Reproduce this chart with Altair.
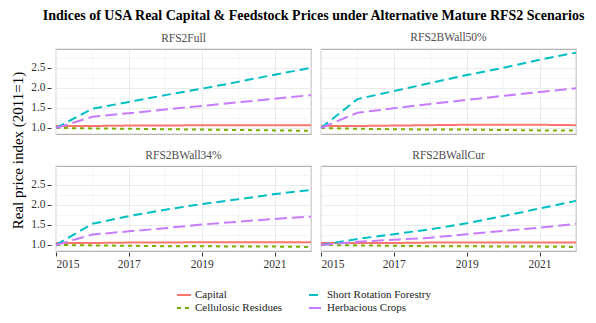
import altair as alt
import pandas as pd

years = [2015, 2016, 2017, 2018, 2019, 2020, 2021, 2022]
scenarios = ["RFS2Full", "RFS2BWall50%", "RFS2BWall34%", "RFS2BWallCur"]
series = ["Capital", "Cellulosic Residues", "Short Rotation Forestry", "Herbacious Crops"]
colors = ["#F8766D", "#7CAE00", "#00BFC4", "#C77CFF"]
dashes = [[1, 0], [4, 4], [9, 5], [12, 5]]

full_capital = [1.05, 1.05, 1.06, 1.06, 1.07, 1.07, 1.07, 1.07]
full_cellulosic = [1.00, 0.99, 0.98, 0.97, 0.96, 0.95, 0.94, 0.93]
full_srf = [1.00, 1.48, 1.65, 1.82, 1.98, 2.15, 2.33, 2.50]
full_herb = [1.00, 1.28, 1.37, 1.46, 1.55, 1.64, 1.73, 1.82]

w50_capital = [1.05, 1.05, 1.06, 1.07, 1.08, 1.08, 1.08, 1.07]
w50_cellulosic = [1.00, 0.98, 0.97, 0.96, 0.96, 0.95, 0.94, 0.94]
w50_srf = [1.00, 1.72, 1.92, 2.12, 2.32, 2.50, 2.70, 2.88]
w50_herb = [1.00, 1.38, 1.49, 1.60, 1.70, 1.80, 1.90, 1.99]

w34_capital = [1.05, 1.05, 1.06, 1.06, 1.07, 1.07, 1.07, 1.07]
w34_cellulosic = [1.00, 0.99, 0.98, 0.97, 0.97, 0.96, 0.96, 0.95]
w34_srf = [1.00, 1.53, 1.72, 1.88, 2.02, 2.14, 2.27, 2.37]
w34_herb = [1.00, 1.26, 1.34, 1.42, 1.51, 1.58, 1.65, 1.71]

cur_capital = [1.05, 1.05, 1.05, 1.06, 1.06, 1.06, 1.06, 1.06]
cur_cellulosic = [1.00, 0.99, 0.98, 0.97, 0.97, 0.96, 0.96, 0.95]
cur_srf = [1.00, 1.15, 1.27, 1.39, 1.54, 1.72, 1.91, 2.10]
cur_herb = [1.00, 1.08, 1.13, 1.18, 1.27, 1.35, 1.43, 1.53]

table = {
    "RFS2Full": {"Capital": full_capital, "Cellulosic Residues": full_cellulosic,
                 "Short Rotation Forestry": full_srf, "Herbacious Crops": full_herb},
    "RFS2BWall50%": {"Capital": w50_capital, "Cellulosic Residues": w50_cellulosic,
                     "Short Rotation Forestry": w50_srf, "Herbacious Crops": w50_herb},
    "RFS2BWall34%": {"Capital": w34_capital, "Cellulosic Residues": w34_cellulosic,
                     "Short Rotation Forestry": w34_srf, "Herbacious Crops": w34_herb},
    "RFS2BWallCur": {"Capital": cur_capital, "Cellulosic Residues": cur_cellulosic,
                     "Short Rotation Forestry": cur_srf, "Herbacious Crops": cur_herb},
}

rows = []
for sc in scenarios:
    for s in series:
        for y, v in zip(years, table[sc][s]):
            rows.append({"scenario": sc, "series": s, "year": y, "value": v})
df = pd.DataFrame(rows)

FONT = "Liberation Serif, Times New Roman, serif"

x_axis = alt.Axis(
    values=years, format="d",
    labelExpr="datum.value % 2 == 1 ? datum.label : ''",
    gridWidth={"condition": {"test": "datum.value % 2 == 1", "value": 1}, "value": 0.5},
    tickSize={"condition": {"test": "datum.value % 2 == 1", "value": 4}, "value": 0},
    title=None,
)
y_axis = alt.Axis(
    values=[1.0, 1.25, 1.5, 1.75, 2.0, 2.25, 2.5, 2.75],
    labelExpr="(datum.value * 2) % 1 == 0 ? format(datum.value, '.1f') : ''",
    gridWidth={"condition": {"test": "(datum.value * 2) % 1 == 0", "value": 1}, "value": 0.5},
    tickSize={"condition": {"test": "(datum.value * 2) % 1 == 0", "value": 4}, "value": 0},
    title=None,
)

leg = alt.Legend(title=None, orient="none", legendX=120, legendY=238)

base = alt.Chart(df).mark_line(strokeWidth=2).encode(
    x=alt.X("year:Q", scale=alt.Scale(domain=[2015, 2022], nice=False, zero=False), axis=x_axis),
    y=alt.Y("value:Q", scale=alt.Scale(domain=[0.85, 2.97], nice=False, zero=False), axis=y_axis),
    color=alt.Color("series:N", scale=alt.Scale(domain=series, range=colors), legend=leg),
    strokeDash=alt.StrokeDash("series:N", scale=alt.Scale(domain=series, range=dashes), legend=leg),
    detail="series:N",
).properties(width=255, height=85)

facet = base.facet(
    facet=alt.Facet("scenario:N", sort=scenarios, title=None,
                    header=alt.Header(labelFont=FONT, labelFontSize=11.5, labelColor="#4d4d4d",
                                      labelPadding=5)),
    columns=2,
    spacing={"row": 12, "column": 0},
).properties(
    title=alt.TitleParams("Real price index (2011=1)", orient="left", anchor="middle", font=FONT,
                          fontSize=15, fontWeight="normal", color="#000000", offset=5)
)

chart = alt.vconcat(facet).properties(
    background="white",
    padding={"left": 2, "top": 0, "right": 0, "bottom": 0},
    title=alt.TitleParams(
        "Indices of USA Real Capital & Feedstock Prices under Alternative Mature RFS2 Scenarios",
        font=FONT, fontSize=14, fontWeight="bold", color="#000000", anchor="middle", offset=9,
        dx=18),
).configure_view(
    stroke="#b3b3b3", strokeWidth=1.2
).configure_axis(
    labelFont=FONT, labelFontSize=11.5, labelColor="#333333",
    gridColor="#ebebeb", domain=False, tickColor="#333333", labelPadding=2,
).configure_legend(
    columns=2, labelFont=FONT, labelFontSize=11, labelColor="#222222",
    symbolType="stroke", symbolSize=196, symbolStrokeWidth=2, rowPadding=0, columnPadding=22,
    labelLimit=300, labelOffset=3,
)

chart.save("out.html", embed_options={"renderer": "svg", "actions": False})
